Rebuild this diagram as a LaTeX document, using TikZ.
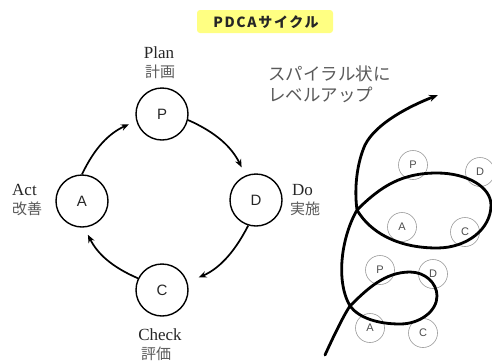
\documentclass[tikz,border=0pt]{standalone}
\usepackage{fontspec}
\setmainfont{Liberation Serif}
\newfontfamily\jp{Noto Sans CJK JP}
\newfontfamily\sans{Liberation Sans}
\usetikzlibrary{arrows.meta}
\definecolor{hilite}{RGB}{255,255,130}
\begin{document}
\begin{tikzpicture}[x=1pt,y=-1pt,
  bigc/.style={circle, draw=black, line width=1.4pt, minimum size=52pt, inner sep=0pt, text=black!85, font=\sans\fontsize{15}{15}\selectfont},
  smallc/.style={circle, draw=black!40, line width=0.6pt, minimum size=29pt, inner sep=0pt, text=black!70, font=\sans\fontsize{11}{11}\selectfont},
  cyc/.style={line width=1.7pt, -{Stealth[length=8pt,width=6.5pt]}},
  lat/.style={font=\fontsize{17}{17}\selectfont, text=black!85, inner sep=0pt},
  jpl/.style={font=\jp\fontsize{15}{15}\selectfont, text=black!65, inner sep=0pt},
  jpr/.style={font=\jp\fontsize{17.5}{17.5}\selectfont, text=black!65, inner sep=0pt, anchor=west},
]
\path[use as bounding box] (0,0) rectangle (492,362);
% title
\fill[hilite, rounded corners=3pt] (197,10) rectangle (333,33);
\node[font=\jp\bfseries\fontsize{14}{14}\selectfont, inner sep=0pt, text=black!85] (title) at (266,22) {\addfontfeature{LetterSpace=12}PDCAサイクル};
% PDCA cycle
\node[bigc] (P) at (162,114) {P};
\node[bigc] (D) at (256,200) {D};
\node[bigc] (C) at (162,290) {C};
\node[bigc] (A) at (82,201) {A};
\draw[cyc, shorten >=8pt] (A.90) to[bend left=20] (P.195);
\draw[cyc, shorten >=9pt] (P.-13) to[bend left=20] (D.113);
\draw[cyc, shorten >=12pt] (D.253) to[bend left=20] (C.17);
\draw[cyc, shorten >=8pt] (C.154) to[bend left=20] (A.275);
% labels
\node[lat, anchor=base] (plan) at (159,58) {Plan};
\node[jpl] (plan-j) at (160,72) {計画};
\node[lat, anchor=base west] (act) at (12,195) {Act};
\node[jpl, anchor=west] (act-j) at (12,209) {改善};
\node[lat, anchor=base west] (do) at (292,195) {Do};
\node[jpl, anchor=west] (do-j) at (290,209) {実施};
\node[lat, anchor=base] (check) at (160,340) {Check};
\node[jpl] (check-j) at (156,354) {評価};
% spiral text
\node[jpr] (sp1) at (268,74) {スパイラル状に};
\node[jpr] (sp2) at (268,95) {レベルアップ};
% small circles
\node[smallc] (p1) at (413,165) {P};
\node[smallc] (d1) at (480,172) {D};
\node[smallc] (a1) at (402,227) {A};
\node[smallc] (c1) at (465,232) {C};
\node[smallc] (p2) at (380,270) {P};
\node[smallc] (d2) at (433,274) {D};
\node[smallc] (a2) at (370,328) {A};
\node[smallc] (c2) at (423,333) {C};
% spiral
\coordinate (s0) at (325,355);
\coordinate (x2) at (350,306);
\coordinate (t1) at (410,272);
\coordinate (r1) at (437,296);
\coordinate (b1) at (400,324);
\coordinate (x1) at (357,210);
\coordinate (t2) at (437,173);
\coordinate (r2) at (491,205);
\coordinate (b2) at (437,248);
\coordinate (m) at (365,145);
\coordinate (e) at (438,95);
\draw[line width=2.8pt, -{Stealth[length=9pt,width=7pt]}, line cap=round, line join=round]
  (s0) .. controls (330,344) and (343,316) .. (x2)
       .. controls (367,289) and (385,272) .. (t1)
       .. controls (425,272) and (437,283) .. (r1)
       .. controls (437,311) and (420,324) .. (b1)
       .. controls (378,324) and (359,318) .. (x2)
       .. controls (335,280) and (342,236) .. (x1)
       .. controls (381,186) and (402,173) .. (t2)
       .. controls (467,173) and (491,187) .. (r2)
       .. controls (491,229) and (467,248) .. (b2)
       .. controls (397,248) and (370,232) .. (x1)
       .. controls (354,188) and (357,163) .. (m)
       .. controls (376,123) and (410,106) .. (e);
\end{tikzpicture}
\end{document}
